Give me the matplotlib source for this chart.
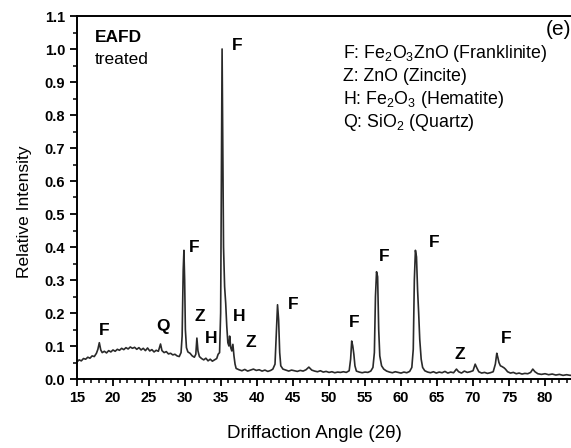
# XRD pattern of treated EAFD, panel (e)
import matplotlib
matplotlib.use("Agg")
import matplotlib.pyplot as plt
from matplotlib.ticker import MultipleLocator

plt.rcParams['font.family'] = ['Liberation Sans', 'DejaVu Sans']
plt.rcParams['mathtext.fontset'] = 'custom'
plt.rcParams['mathtext.rm'] = 'Liberation Sans'
plt.rcParams['mathtext.it'] = 'Liberation Sans'

# 2theta (deg) and relative intensity
two_theta = [
    15.0, 15.3, 15.6, 15.9, 16.2, 16.5, 16.8, 17.1, 17.4, 17.7, 17.9, 18.1, 18.3, 18.5, 18.8,
    19.1, 19.4, 19.7, 20.0, 20.3, 20.6, 20.9, 21.2, 21.5, 21.8, 22.1, 22.4, 22.7, 23.0, 23.3,
    23.6, 23.9, 24.2, 24.5, 24.8, 25.1, 25.4, 25.7, 26.0, 26.3, 26.6, 26.8, 27.1, 27.4, 27.7,
    28.0, 28.3, 28.6, 28.9, 29.2, 29.45, 29.6, 29.75, 29.85, 29.95, 30.05, 30.2, 30.4, 30.7,
    31.0, 31.3, 31.5, 31.65, 31.8, 32.0, 32.3, 32.6, 32.9, 33.2, 33.5, 33.8, 34.1, 34.4, 34.6,
    34.8, 34.95, 35.05, 35.15, 35.25, 35.35, 35.5, 35.65, 35.8, 35.95, 36.1, 36.2, 36.35, 36.5,
    36.65, 36.8, 36.95, 37.1, 37.5, 37.9, 38.3, 38.7, 39.1, 39.5, 39.9, 40.3, 40.7, 41.1, 41.5,
    41.9, 42.2, 42.5, 42.7, 42.85, 43.0, 43.15, 43.3, 43.6, 44.0, 44.4, 44.8, 45.2, 45.6, 46.0,
    46.4, 46.8, 47.2, 47.6, 48.0, 48.4, 48.8, 49.2, 49.6, 50.0, 50.4, 50.8, 51.2, 51.6, 52.0,
    52.4, 52.8, 53.0, 53.15, 53.3, 53.45, 53.6, 53.8, 54.2, 54.6, 55.0, 55.4, 55.8, 56.1, 56.3,
    56.45, 56.6, 56.75, 56.9, 57.05, 57.3, 57.6, 58.0, 58.4, 58.8, 59.2, 59.6, 60.0, 60.4, 60.8,
    61.2, 61.5, 61.7, 61.85, 62.0, 62.15, 62.3, 62.45, 62.6, 62.8, 63.0, 63.3, 63.7, 64.1, 64.5,
    64.9, 65.3, 65.7, 66.1, 66.5, 66.9, 67.3, 67.7, 68.0, 68.4, 68.8, 69.2, 69.6, 70.0, 70.3,
    70.5, 70.8, 71.2, 71.6, 72.0, 72.4, 72.8, 73.1, 73.3, 73.45, 73.6, 73.8, 74.0, 74.3, 74.5,
    74.8, 75.2, 75.6, 76.0, 76.4, 76.8, 77.2, 77.6, 78.0, 78.3, 78.6, 79.0, 79.5, 80.0, 80.5,
    81.0, 81.5, 82.0, 82.5, 83.0, 83.5, 84.0, 84.4]
intensity = [
    0.052, 0.058, 0.055, 0.062, 0.060, 0.066, 0.063, 0.070, 0.068, 0.078, 0.090, 0.110, 0.088, 0.080, 0.084,
    0.079, 0.086, 0.082, 0.088, 0.084, 0.090, 0.087, 0.093, 0.089, 0.095, 0.091, 0.097, 0.093, 0.096, 0.090,
    0.095, 0.088, 0.093, 0.086, 0.094, 0.085, 0.089, 0.082, 0.087, 0.084, 0.106, 0.086, 0.080, 0.083, 0.076,
    0.078, 0.073, 0.075, 0.070, 0.068, 0.080, 0.130, 0.330, 0.390, 0.300, 0.150, 0.095, 0.082, 0.078,
    0.070, 0.066, 0.075, 0.124, 0.085, 0.068, 0.062, 0.058, 0.063, 0.055, 0.060, 0.054, 0.058, 0.062, 0.075,
    0.080, 0.200, 0.600, 1.000, 0.700, 0.400, 0.280, 0.230, 0.160, 0.110, 0.100, 0.130, 0.095, 0.085,
    0.105, 0.070, 0.045, 0.032, 0.028, 0.025, 0.029, 0.024, 0.027, 0.030, 0.026, 0.028, 0.024, 0.027, 0.023,
    0.026, 0.030, 0.045, 0.150, 0.225, 0.180, 0.080, 0.040, 0.030, 0.027, 0.024, 0.027, 0.025, 0.023, 0.026,
    0.024, 0.028, 0.036, 0.027, 0.024, 0.022, 0.025, 0.021, 0.023, 0.020, 0.022, 0.019, 0.021, 0.020, 0.022,
    0.020, 0.025, 0.060, 0.115, 0.100, 0.075, 0.040, 0.024, 0.021, 0.019, 0.021, 0.020, 0.024, 0.035, 0.080,
    0.250, 0.325, 0.310, 0.150, 0.070, 0.040, 0.030, 0.024, 0.021, 0.019, 0.022, 0.020, 0.018, 0.021, 0.019,
    0.023, 0.035, 0.090, 0.300, 0.390, 0.370, 0.270, 0.200, 0.120, 0.060, 0.035, 0.025, 0.021, 0.019, 0.022,
    0.018, 0.021, 0.019, 0.023, 0.018, 0.021, 0.019, 0.030, 0.022, 0.018, 0.024, 0.020, 0.022, 0.025, 0.045,
    0.035, 0.022, 0.018, 0.020, 0.017, 0.019, 0.022, 0.045, 0.078, 0.065, 0.050, 0.040, 0.038, 0.034, 0.030,
    0.022, 0.018, 0.020, 0.016, 0.018, 0.015, 0.017, 0.016, 0.020, 0.030, 0.022, 0.016, 0.014, 0.016, 0.013,
    0.015, 0.012, 0.014, 0.011, 0.013, 0.011, 0.012, 0.010]

# phase letters and where they sit
peak_labels = ['F', 'Q', 'F', 'Z', 'H', 'F', 'H', 'Z', 'F', 'F', 'F', 'F', 'Z', 'F']
label_x = [18.8, 27.0, 31.3, 32.0, 33.6, 37.3, 37.5, 39.1, 45.0, 53.45, 57.7, 64.6, 68.2, 74.6]
label_y = [0.148, 0.160, 0.400, 0.190, 0.124, 1.010, 0.190, 0.110, 0.225, 0.170, 0.370, 0.415, 0.073, 0.124]

legend_lines = ['F: Fe$_2$O$_3$ZnO (Franklinite)',
                'Z: ZnO (Zincite)',
                'H: Fe$_2$O$_3$ (Hematite)',
                'Q: SiO$_2$ (Quartz)']
legend_y = [0.973, 0.903, 0.833, 0.764]

fig = plt.figure(figsize=(5.71, 4.48), dpi=100)
ax = fig.add_axes([77/571, 1 - 379/448, 1 - 77/571 + 0.01, (379 - 16)/448])

ax.plot(two_theta, intensity, color='#2a2a2a', lw=1.2)

ax.set_xlim(15, 84.4)
ax.set_ylim(0, 1.1)
ax.xaxis.set_major_locator(MultipleLocator(5))
ax.xaxis.set_minor_locator(MultipleLocator(1))
ax.yaxis.set_major_locator(MultipleLocator(0.1))
ax.yaxis.set_minor_locator(MultipleLocator(0.05))
ax.yaxis.set_major_formatter(plt.FuncFormatter(lambda v, p: f"{v:.1f}"))
ax.tick_params(which='major', direction='out', length=5, width=1.3, labelsize=10.5)
ax.tick_params(which='minor', direction='out', length=3, width=1.1)
for lab in ax.get_xticklabels() + ax.get_yticklabels():
    lab.set_fontweight('bold')
for s in ['left', 'bottom', 'top']:
    ax.spines[s].set_linewidth(1.4)
ax.spines['right'].set_visible(False)

ax.set_xlabel('Driffaction Angle (2θ)', fontsize=13.5)
ax.xaxis.set_label_coords(0.475, -0.128)
ax.set_ylabel('Relative Intensity', fontsize=12.5)
ax.yaxis.set_label_coords(-0.09, 0.46)

for t, x, y in zip(peak_labels, label_x, label_y):
    ax.text(x, y, t, fontsize=12.5, fontweight='bold', ha='center', va='center')

ax.text(17.5, 1.021, 'EAFD', fontsize=12.5, fontweight='bold', va='baseline')
ax.text(17.5, 0.955, 'treated', fontsize=12.5, va='baseline')
ax.text(83.6, 1.042, '(e)', fontsize=15, ha='right', va='baseline')

for t, y in zip(legend_lines, legend_y):
    ax.text(51.9, y, t, fontsize=12.8, va='baseline')

fig.savefig('out.png', dpi=100)
